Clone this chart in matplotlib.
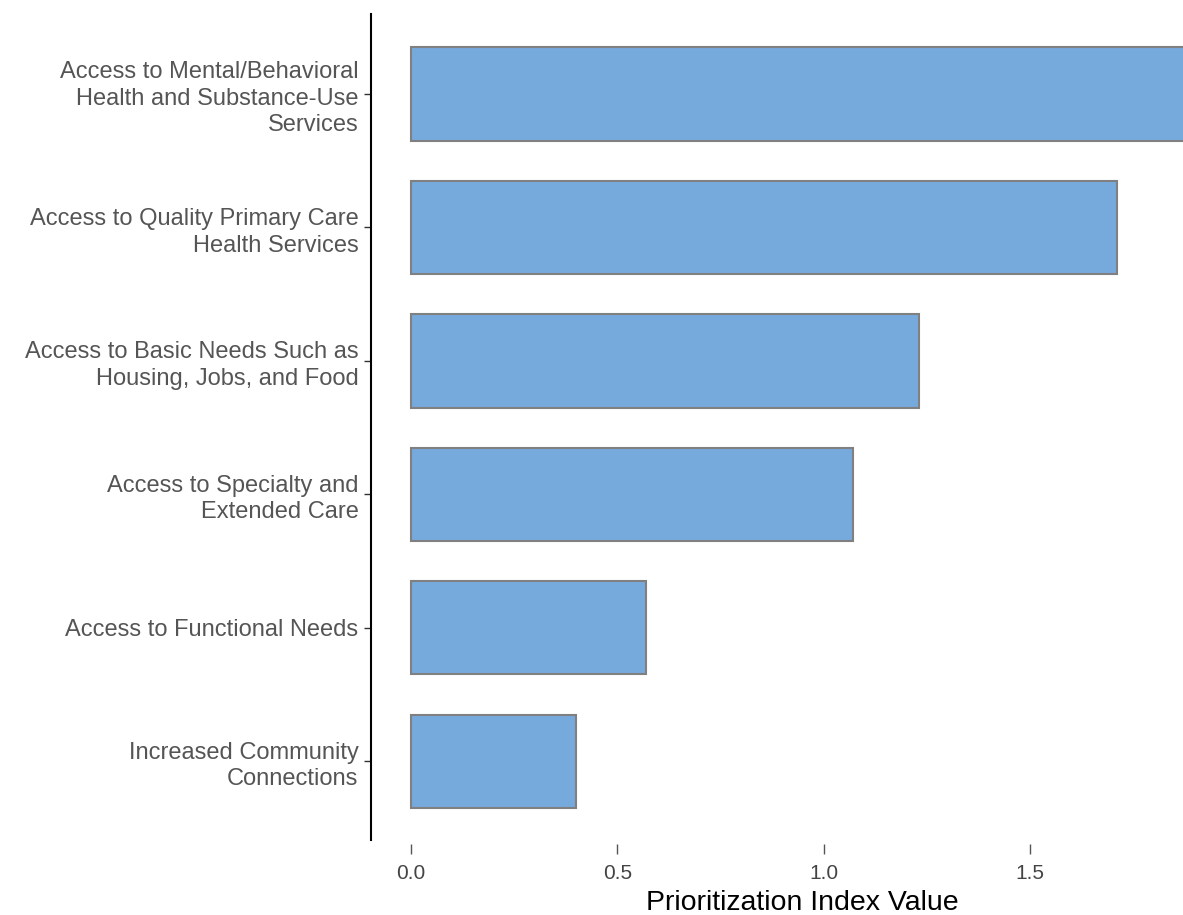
import matplotlib
matplotlib.use("Agg")
import matplotlib.pyplot as plt

plt.rcParams['font.family'] = ['Liberation Sans', 'DejaVu Sans']

# categories, top to bottom
needs = [
    "Access to Mental/Behavioral\nHealth and Substance-Use\nServices",
    "Access to Quality Primary Care\nHealth Services",
    "Access to Basic Needs Such as\nHousing, Jobs, and Food",
    "Access to Specialty and\nExtended Care",
    "Access to Functional Needs",
    "Increased Community\nConnections",
]
index_values = [1.95, 1.71, 1.23, 1.07, 0.57, 0.40]
xticks = [0.0, 0.5, 1.0, 1.5]

fig = plt.figure(figsize=(11.83, 9.15), dpi=100)
ax = fig.add_axes([0.3136, 0.082, 0.6864, 0.9028])

ypos = range(len(needs))
ax.barh(ypos, index_values, height=0.7, color="#76A9DC",
        edgecolor="#808080", linewidth=1.5)

for s in ["top", "right", "bottom"]:
    ax.spines[s].set_visible(False)
ax.spines["left"].set_linewidth(1.5)
ax.spines["bottom"].set_position(("outward", 3))

ax.set_ylim(5.59, -0.6)
ax.set_xlim(-0.097, 1.87)
ax.set_yticks(list(ypos))
ax.set_yticklabels(needs, linespacing=1.27)
ax.set_xticks(xticks)
ax.set_xticklabels([f"{t:.1f}" for t in xticks])
ax.set_xlabel("Prioritization Index Value", fontsize=20.5, color="black")
ax.xaxis.set_label_coords(0.531, -0.061)

ax.tick_params(axis="y", length=5, width=1, pad=4, color="#333333",
               labelsize=17, labelcolor="#555555")
ax.tick_params(axis="x", length=7, width=1, pad=7, color="#555555",
               labelsize=15, labelcolor="#444444")

fig.savefig("out.png", dpi=100)
